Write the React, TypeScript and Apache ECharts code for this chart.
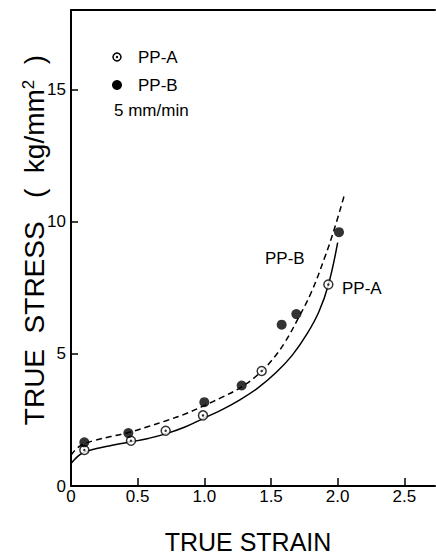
import React, { useEffect, useRef } from "react";
import * as echarts from "echarts";

const xTicks = [0, 0.5, 1.0, 1.5, 2.0, 2.5];
const yTicks = [0, 5, 10, 15];

// PP-A measured points (open circles)
const ppaX = [0.1, 0.45, 0.71, 0.99, 1.43, 1.93];
const ppaY = [1.36, 1.71, 2.09, 2.67, 4.35, 7.62];
// PP-B measured points (filled circles)
const ppbX = [0.1, 0.43, 1.0, 1.28, 1.58, 1.69, 2.01];
const ppbY = [1.65, 2.0, 3.17, 3.8, 6.1, 6.5, 9.6];

// PP-A fitted curve (solid)
const curveAX = [0, 0.03, 0.07, 0.12, 0.22, 0.32, 0.44, 0.58, 0.71, 0.85, 0.99, 1.13, 1.27, 1.4, 1.54, 1.66, 1.77, 1.86, 1.93, 2.0];
const curveAY = [0.85, 1.02, 1.2, 1.32, 1.45, 1.55, 1.66, 1.8, 1.97, 2.22, 2.55, 2.88, 3.27, 3.7, 4.3, 4.95, 5.75, 6.6, 7.6, 9.2];
// PP-B fitted curve (dashed)
const curveBX = [0, 0.03, 0.08, 0.18, 0.3, 0.43, 0.58, 0.72, 0.86, 0.99, 1.13, 1.27, 1.4, 1.5, 1.6, 1.7, 1.8, 1.9, 1.98, 2.05];
const curveBY = [1.17, 1.35, 1.55, 1.73, 1.87, 2.02, 2.25, 2.48, 2.73, 3.02, 3.35, 3.72, 4.2, 4.72, 5.4, 6.3, 7.3, 8.6, 9.8, 11.0];

const zip = (xs: number[], ys: number[]) => xs.map((x, i) => [x, ys[i]]);

const FONT = "Liberation Sans";

export default function App() {
  const ref = useRef<HTMLDivElement>(null);
  useEffect(() => {
    document.body.style.margin = "0";
    const chart = echarts.init(ref.current!, null, { renderer: "svg" });
    const axisLine = { show: true, lineStyle: { color: "#000", width: 2 } };
    chart.setOption({
      animation: false,
      backgroundColor: "#fff",
      grid: { left: 71, right: 1, top: 10, bottom: 70 },
      xAxis: [
        {
          type: "value",
          min: 0,
          max: 2.73,
          interval: 0.5,
          name: "TRUE STRAIN",
          nameLocation: "middle",
          nameGap: 43,
          nameMoveOverlap: false,
          nameTextStyle: { fontFamily: FONT, fontSize: 25, color: "#000", padding: [0, 10, 0, 0] },
          axisLine,
          axisTick: { show: true, inside: true, length: 8, lineStyle: { color: "#000", width: 1.5 }, customValues: xTicks },
          axisLabel: {
            fontFamily: FONT,
            fontSize: 17,
            color: "#000",
            margin: 2,
            customValues: xTicks,
            formatter: (v: number) => (v === 0 ? "0" : v.toFixed(1)),
          },
          splitLine: { show: false },
        },
        {
          type: "value",
          position: "top",
          min: 0,
          max: 2.73,
          axisLine,
          axisTick: { show: false },
          axisLabel: { show: false },
          splitLine: { show: false },
        },
      ],
      yAxis: {
        type: "value",
        min: 0,
        max: 18,
        interval: 5,
        name: "{a|TRUE  STRESS   (  kg/mm}{s|2}{a|  )}",
        nameLocation: "middle",
        nameGap: 22,
        nameMoveOverlap: false,
        nameTextStyle: {
          color: "#000",
          padding: [0, 0, 0, 16],
          rich: {
            a: { fontFamily: FONT, fontSize: 28, color: "#000" },
            s: { fontFamily: FONT, fontSize: 17, color: "#000", verticalAlign: "top", padding: [0, 0, 12, 0] },
          },
        },
        axisLine,
        axisTick: { show: true, inside: true, length: 7, lineStyle: { color: "#000", width: 1.5 }, customValues: yTicks },
        axisLabel: { fontFamily: FONT, fontSize: 17, color: "#000", margin: 5, customValues: yTicks },
        splitLine: { show: false },
      },
      graphic: [
        { type: "circle", shape: { cx: 117, cy: 57, r: 4 }, style: { fill: "#fff", stroke: "#000", lineWidth: 1.5 } },
        { type: "circle", shape: { cx: 117, cy: 57, r: 1.2 }, style: { fill: "#000" } },
        { type: "circle", shape: { cx: 117, cy: 85, r: 5 }, style: { fill: "#000" } },
        { type: "text", x: 138, y: 57, style: { text: "PP-A", font: `17px "${FONT}"`, fill: "#000", verticalAlign: "middle" } },
        { type: "text", x: 138, y: 85, style: { text: "PP-B", font: `17px "${FONT}"`, fill: "#000", verticalAlign: "middle" } },
        { type: "text", x: 114, y: 110, style: { text: "5 mm/min", font: `17px "${FONT}"`, fill: "#000", verticalAlign: "middle" } },
        { type: "text", x: 265, y: 258, style: { text: "PP-B", font: `17px "${FONT}"`, fill: "#000", verticalAlign: "middle" } },
        { type: "text", x: 342, y: 288, style: { text: "PP-A", font: `17px "${FONT}"`, fill: "#000", verticalAlign: "middle" } },
      ],
      series: [
        {
          name: "PP-A curve",
          type: "line",
          data: zip(curveAX, curveAY),
          smooth: 0.4,
          showSymbol: false,
          lineStyle: { color: "#000", width: 1.5, type: "solid" },
          z: 2,
        },
        {
          name: "PP-B curve",
          type: "line",
          data: zip(curveBX, curveBY),
          smooth: 0.4,
          showSymbol: false,
          lineStyle: { color: "#000", width: 1.5, type: [6, 4] },
          z: 2,
        },
        {
          name: "PP-A",
          type: "scatter",
          data: zip(ppaX, ppaY),
          symbol: "circle",
          symbolSize: 9,
          itemStyle: { color: "#fff", borderColor: "#000", borderWidth: 1.5 },
          z: 3,
        },
        {
          name: "PP-A center",
          type: "scatter",
          data: zip(ppaX, ppaY),
          symbol: "circle",
          symbolSize: 2.5,
          itemStyle: { color: "#000" },
          z: 4,
        },
        {
          name: "PP-B",
          type: "scatter",
          data: zip(ppbX, ppbY),
          symbol: "circle",
          symbolSize: 10,
          itemStyle: { color: "#000" },
          z: 3,
        },
      ],
    });
    return () => chart.dispose();
  }, []);
  return <div ref={ref} style={{ position: "absolute", left: 0, top: 0, width: 436, height: 559 }} />;
}
